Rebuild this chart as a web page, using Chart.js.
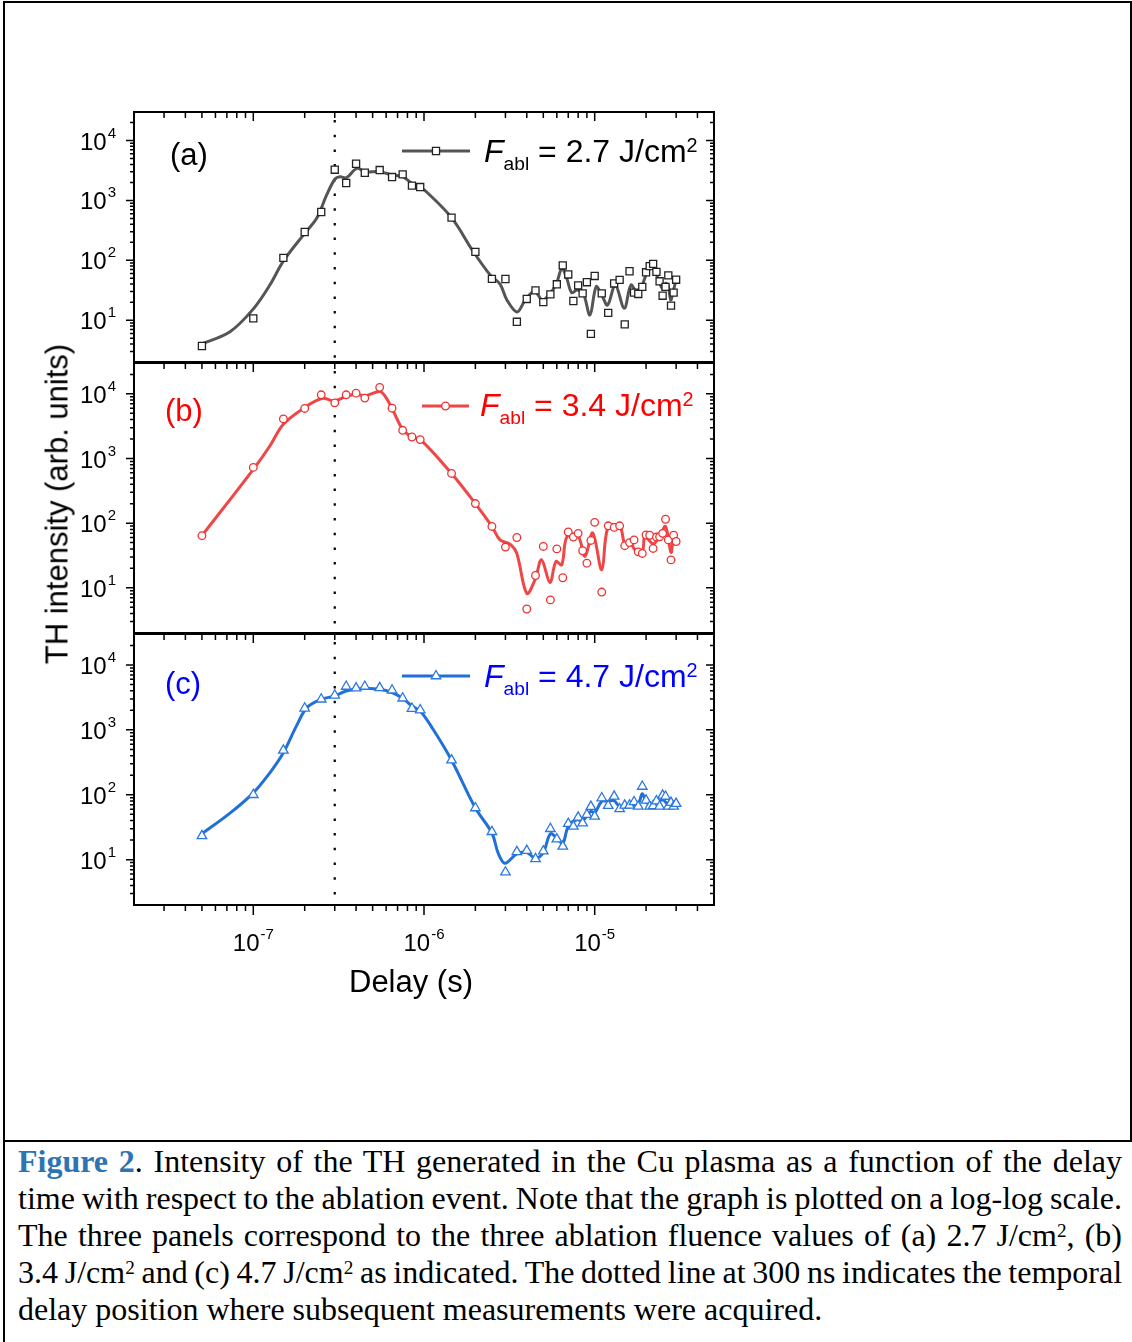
<!DOCTYPE html>
<html>
<head>
<meta charset="utf-8">
<script src="https://cdn.jsdelivr.net/npm/chart.js@4.4.0/dist/chart.umd.min.js"></script>
<style>
  html, body { margin: 0; padding: 0; background: #fff; }
  body { width: 1132px; height: 1342px; position: relative; overflow: hidden; }
  #frame { position: absolute; left: 3px; top: 1px; width: 1129px; height: 1141px; box-sizing: border-box; border: 2px solid #000; }
  #leftRule { position: absolute; left: 3px; top: 1142px; width: 2px; height: 200px; background: #000; }
  canvas { position: absolute; left: 0; }
  .txt { position: absolute; font-family: "Liberation Sans", Arial, sans-serif; line-height: 1; white-space: nowrap; }
  .txt sub, .txt sup { font-size: 0.6em; line-height: 0; vertical-align: baseline; position: relative; }
  .txt sub { top: 0.44em; }
  .txt sup { top: -0.52em; font-size: 0.62em; }
  .leg { font-size: 32px; }
  .tag { font-size: 31px; }
  #ytitle { font-size: 31px; left: 57px; top: 504px; transform: translate(-50%, -50%) rotate(-90deg); }
  #xtitle { font-size: 31px; left: 411px; top: 981px; transform: translate(-50%, -50%); }
  #caption { position: absolute; left: 18px; top: 1143px; width: 1104px; font: 32px/37px "Liberation Serif", "Times New Roman", serif; color: #000; }
  #caption .ln { white-space: nowrap; word-spacing: -4px; text-align: justify; text-align-last: justify; }
  #caption .last { word-spacing: normal; text-align-last: left; }
  #caption b { color: #2E74B5; }
  #caption sup { font-size: 0.6em; line-height: 0; vertical-align: baseline; position: relative; top: -0.48em; }
</style>
</head>
<body>
<div id="frame"></div>
<div id="leftRule"></div>

<canvas id="panelA" width="760" height="270" style="top:100px"></canvas>
<canvas id="panelB" width="760" height="286" style="top:356px"></canvas>
<canvas id="panelC" width="760" height="383" style="top:627px"></canvas>

<div class="txt tag" style="left:170px; top:139px; color:#000">(a)</div>
<div class="txt tag" style="left:165px; top:395px; color:#FF0000">(b)</div>
<div class="txt tag" style="left:165px; top:668px; color:#0000FF">(c)</div>

<div class="txt leg" style="left:484px; top:135px; color:#000"><i>F</i><sub>abl</sub> = 2.7 J/cm<sup>2</sup></div>
<div class="txt leg" style="left:480px; top:389px; color:#FF0000"><i>F</i><sub>abl</sub> = 3.4 J/cm<sup>2</sup></div>
<div class="txt leg" style="left:484px; top:660px; color:#0000FF"><i>F</i><sub>abl</sub> = 4.7 J/cm<sup>2</sup></div>

<div id="ytitle" class="txt">TH intensity (arb. units)</div>
<div id="xtitle" class="txt">Delay (s)</div>

<div id="caption">
  <div class="ln"><b>Figure 2</b>. Intensity of the TH generated in the Cu plasma as a function of the delay</div>
  <div class="ln">time with respect to the ablation event. Note that the graph is plotted on a log-log scale.</div>
  <div class="ln">The three panels correspond to the three ablation fluence values of (a) 2.7 J/cm<sup>2</sup>, (b)</div>
  <div class="ln">3.4 J/cm<sup>2</sup> and (c) 4.7 J/cm<sup>2</sup> as indicated. The dotted line at 300 ns indicates the temporal</div>
  <div class="ln last">delay position where subsequent measurements were acquired.</div>
</div>

<script>
// delay grid shared by the three fluences (s)
const delay = [5e-8, 1e-7, 1.5e-7, 2e-7, 2.5e-7, 3e-7, 3.5e-7, 4e-7, 4.5e-7, 5.5e-7,
  6.5e-7, 7.5e-7, 8.5e-7, 9.5e-7, 1.45e-6, 2e-6, 2.5e-6, 3e-6, 3.5e-6, 4e-6,
  4.5e-6, 5e-6, 5.5e-6, 6e-6, 6.5e-6, 7e-6, 7.5e-6, 8e-6, 8.5e-6, 9e-6,
  9.5e-6, 1e-5, 1.1e-5, 1.2e-5, 1.3e-5, 1.4e-5, 1.5e-5, 1.6e-5, 1.7e-5, 1.8e-5,
  1.9e-5, 2e-5, 2.1e-5, 2.2e-5, 2.3e-5, 2.4e-5, 2.5e-5, 2.6e-5, 2.7e-5, 2.8e-5,
  2.9e-5, 3e-5];

// measured TH intensity (arb. units)
const intensityA = [3.7, 10.7, 110, 297, 641, 3260, 1955, 4100, 2900, 3220,
  2460, 2730, 1765, 1675, 515, 138, 49, 48.7, 9.4, 22.6,
  31.5, 20, 27, 39.7, 82, 58, 20.9, 38, 28, 43,
  5.9, 54.7, 28, 13.2, 41, 47, 8.5, 65.6, 28.8, 27.4,
  36, 63, 80, 87, 64, 44.6, 25.6, 36, 56, 17.5,
  28.8, 47.4];
const intensityB = [64, 728, 4090, 5940, 9660, 7260, 9660, 10260, 8590, 12600,
  6000, 2730, 2150, 1960, 587, 201, 89, 42.7, 60, 4.7,
  15.5, 43.6, 6.5, 40, 14.3, 73, 61, 69.5, 37.4, 24,
  54, 103, 8.6, 91, 86, 91, 44.8, 50, 55, 36,
  34, 65.6, 65, 40.6, 61, 61.5, 69.5, 115, 55, 27,
  65, 52];
const intensityC = [23.3, 100, 482, 2150, 2960, 3410, 4660, 4390, 4660, 4430,
  4080, 3070, 2130, 2020, 341, 62.5, 26.9, 6.4, 13.2, 13.8,
  10.3, 13.5, 29.9, 20.7, 16, 35.8, 32.5, 44.8, 36.6, 49.3,
  65.6, 46.5, 89, 68, 94.6, 60.4, 68.7, 68.7, 77.4, 66.2,
  134, 82, 66, 67.5, 80, 66, 98, 94, 66, 75.5,
  66, 73];

// smoothed guide curves
const fitDelayA = [5e-8, 7.3e-8, 1e-7, 1.25e-7, 1.5e-7, 2e-7, 2.35e-7, 2.69e-7, 3.01e-7, 3.22e-7,
  3.52e-7, 4.04e-7, 4.5e-7, 5.5e-7, 6.5e-7, 7.5e-7, 8.5e-7, 9.5e-7, 1.04e-6, 1.45e-6,
  1.95e-6, 2.44e-6, 2.79e-6, 3.06e-6, 3.51e-6, 3.92e-6, 4.44e-6, 4.93e-6, 5.42e-6, 5.93e-6,
  6.43e-6, 6.86e-6, 7.33e-6, 7.9e-6, 8.57e-6, 9.38e-6, 1.02e-5, 1.1e-5, 1.19e-5, 1.32e-5,
  1.49e-5, 1.63e-5, 1.76e-5, 1.88e-5, 2.06e-5, 2.2e-5, 2.35e-5, 2.49e-5, 2.61e-5, 2.7e-5,
  2.79e-5, 2.88e-5, 2.98e-5];
const fitA = [4.0, 6.4, 15.4, 38.6, 97, 282, 502, 1233, 2280, 2490,
  2400, 3440, 3020, 3020, 2660, 2490, 1930, 1660, 1370, 515,
  138, 57, 40, 21.7, 13.7, 21.7, 30.3, 21.7, 27, 39,
  73, 50, 28.8, 31.9, 28.1, 12.2, 36.2, 26.3, 17.9, 38.6,
  15.8, 38.6, 29.9, 36.2, 68.9, 73.5, 50, 34, 41.3, 36.2,
  21.7, 29.9, 44];

const fitDelayB = [5e-8, 1e-7, 1.25e-7, 1.5e-7, 2e-7, 2.52e-7, 3e-7, 3.5e-7, 4e-7, 4.5e-7,
  5.5e-7, 5.9e-7, 6.5e-7, 7.5e-7, 8.5e-7, 9.5e-7, 1.45e-6, 2e-6, 2.5e-6, 2.79e-6,
  3.19e-6, 3.49e-6, 4e-6, 4.47e-6, 4.88e-6, 5.47e-6, 5.93e-6, 6.41e-6, 6.89e-6, 8e-6,
  8.77e-6, 9.73e-6, 1.1e-5, 1.2e-5, 1.4e-5, 1.5e-5, 1.61e-5, 1.72e-5, 1.9e-5, 1.97e-5,
  2.2e-5, 2.4e-5, 2.6e-5, 2.8e-5, 2.9e-5, 3e-5];
const fitB = [64, 678, 1560, 3390, 6150, 8490, 7800, 9120, 9900, 9310,
  10900, 9310, 5940, 2830, 2150, 1980, 587, 201, 89, 55,
  47.5, 34.5, 8.2, 13.3, 27.2, 12.1, 25.5, 22.7, 62, 62,
  30.5, 70.5, 19, 89, 89, 49, 52, 38.8, 36.6, 62,
  48, 62, 89, 35.2, 59, 55];

const fitDelayC = [5e-8, 7.3e-8, 1e-7, 1.25e-7, 1.5e-7, 1.79e-7, 2.06e-7, 2.5e-7, 3e-7, 3.5e-7,
  4.5e-7, 5.5e-7, 6.5e-7, 7.5e-7, 8.5e-7, 9.5e-7, 1.13e-6, 1.45e-6, 2e-6, 2.5e-6,
  2.72e-6, 2.98e-6, 3.5e-6, 4e-6, 4.5e-6, 5e-6, 5.5e-6, 6e-6, 6.5e-6, 7e-6,
  7.83e-6, 8.5e-6, 9.5e-6, 1e-5, 1.1e-5, 1.2e-5, 1.3e-5, 1.4e-5, 1.6e-5, 1.8e-5,
  1.9e-5, 2.02e-5, 2.2e-5, 2.5e-5, 2.7e-5, 3e-5];
const fitC = [25, 52, 107, 218, 444, 1150, 2200, 2960, 3330, 3980,
  4340, 4230, 3760, 3070, 2330, 1950, 1020, 341, 62.5, 25.7,
  12.6, 8.8, 12.3, 12.9, 10.5, 12.9, 25, 21.5, 18, 32.5,
  41.2, 39.8, 55.5, 52.4, 79, 79, 81, 66, 70.4, 73,
  104, 75, 70.4, 84, 70.4, 75];

// axes
const xRange = [2e-8, 5e-5];
const yRange = [2, 3e4];
const xTickValues = [1e-7, 1e-6, 1e-5];
const xTickExp = ['-7', '-6', '-5'];
const yTickValues = [10, 100, 1000, 10000];
const yTickExp = ['1', '2', '3', '4'];
const measureDelay = 3e-7; // dotted line, 300 ns

const FONT = '"Liberation Sans", Arial, sans-serif';

const pts = (xs, ys) => xs.map((x, i) => ({ x: x, y: ys[i] }));

// 1..9 x 10^n steps strictly inside a range, for the minor/major tick marks
function logSteps(range) {
  const out = [];
  const lo = Math.floor(Math.log10(range[0]));
  const hi = Math.ceil(Math.log10(range[1]));
  for (let e = lo; e <= hi; e++) {
    for (let k = 1; k <= 9; k++) {
      const v = k * Math.pow(10, e);
      if (v > range[0] * 1.001 && v < range[1] * 0.999) out.push({ value: v, major: k === 1 });
    }
  }
  return out;
}

// "10" with a raised exponent
function drawPower(ctx, exp, x, base, align) {
  ctx.font = '24px ' + FONT;
  const wb = ctx.measureText('10').width;
  ctx.font = '15px ' + FONT;
  const we = ctx.measureText(exp).width;
  const left = align === 'right' ? x - wb - we - 1 : x - (wb + we + 1) / 2;
  ctx.font = '24px ' + FONT;
  ctx.fillText('10', left, base);
  ctx.font = '15px ' + FONT;
  ctx.fillText(exp, left + wb + 1, base - 12);
}

const axesFrame = {
  id: 'axesFrame',
  beforeDatasetsDraw(chart) {
    const { ctx, chartArea: a, scales: { x } } = chart;
    const px = x.getPixelForValue(measureDelay);
    ctx.save();
    ctx.strokeStyle = '#000';
    ctx.lineWidth = 2.2;
    ctx.setLineDash([2.5, 12.2]);
    ctx.beginPath();
    ctx.moveTo(px, a.top + 8);
    ctx.lineTo(px, a.bottom);
    ctx.stroke();
    ctx.restore();
  },
  afterDatasetsDraw(chart, args, opts) {
    const { ctx, chartArea: a, scales: { x, y } } = chart;
    ctx.save();
    ctx.strokeStyle = '#000';
    ctx.fillStyle = '#000';

    // tick marks: left out, right/top in, bottom out on the last panel
    ctx.lineWidth = 1.5;
    ctx.beginPath();
    logSteps(yRange).forEach(t => {
      const py = y.getPixelForValue(t.value);
      const len = t.major ? 8 : 4;
      ctx.moveTo(a.left, py); ctx.lineTo(a.left - len, py);
      ctx.moveTo(a.right, py); ctx.lineTo(a.right - len, py);
    });
    logSteps(xRange).forEach(t => {
      const px = x.getPixelForValue(t.value);
      ctx.moveTo(px, a.top); ctx.lineTo(px, a.top + (t.major ? 9 : 6));
      if (opts.bottomAxis) {
        ctx.moveTo(px, a.bottom); ctx.lineTo(px, a.bottom + (t.major ? 10 : 6));
      }
    });
    ctx.stroke();

    ctx.lineWidth = 2;
    ctx.strokeRect(a.left, a.top, a.right - a.left, a.bottom - a.top);

    // tick labels
    ctx.textAlign = 'left';
    ctx.textBaseline = 'alphabetic';
    yTickValues.forEach((v, i) => drawPower(ctx, yTickExp[i], 116, y.getPixelForValue(v) + 9, 'right'));
    if (opts.bottomAxis) {
      xTickValues.forEach((v, i) => drawPower(ctx, xTickExp[i], x.getPixelForValue(v), a.bottom + 46, 'center'));
    }

    // legend sample: line with its marker
    const fit = chart.data.datasets[0];
    const meas = chart.data.datasets[1];
    const ly = a.top + opts.legend.dy;
    ctx.strokeStyle = fit.borderColor;
    ctx.lineWidth = fit.borderWidth;
    ctx.beginPath();
    ctx.moveTo(opts.legend.x1, ly);
    ctx.lineTo(opts.legend.x2, ly);
    ctx.stroke();
    ctx.fillStyle = meas.pointBackgroundColor;
    ctx.strokeStyle = meas.pointBorderColor;
    ctx.lineWidth = meas.pointBorderWidth;
    Chart.helpers.drawPoint(ctx, {
      pointStyle: meas.pointStyle, radius: meas.pointRadius, rotation: 0, borderWidth: meas.pointBorderWidth
    }, (opts.legend.x1 + opts.legend.x2) / 2, ly);
    ctx.restore();
  }
};

function makePanel(id, fitX, fitY, measY, style, pad, bottomAxis, legend) {
  return new Chart(document.getElementById(id), {
    type: 'scatter',
    data: {
      datasets: [{
        label: 'fit',
        data: pts(fitX, fitY),
        showLine: true,
        borderColor: style.line,
        borderWidth: 3,
        pointRadius: 0,
        tension: 0.35,
        order: 2
      }, {
        label: 'measured',
        data: pts(delay, measY),
        showLine: false,
        pointStyle: style.marker,
        pointRadius: style.radius,
        pointBorderWidth: 1.3,
        pointBorderColor: style.edge,
        pointBackgroundColor: '#fff',
        order: 1
      }]
    },
    options: {
      responsive: false,
      animation: false,
      events: [],
      layout: { padding: pad },
      scales: {
        x: { type: 'logarithmic', min: xRange[0], max: xRange[1], display: false },
        y: { type: 'logarithmic', min: yRange[0], max: yRange[1], display: false }
      },
      plugins: {
        legend: { display: false },
        tooltip: { enabled: false },
        axesFrame: { bottomAxis: bottomAxis, legend: legend }
      }
    },
    plugins: [axesFrame]
  });
}

makePanel('panelA', fitDelayA, fitA, intensityA,
  { line: '#555555', edge: '#222222', marker: 'rect', radius: 5 },
  { left: 134, right: 46, top: 12, bottom: 8 }, false, { x1: 402, x2: 470, dy: 39 });

makePanel('panelB', fitDelayB, fitB, intensityB,
  { line: '#F04646', edge: '#F03030', marker: 'circle', radius: 3.8 },
  { left: 134, right: 46, top: 7, bottom: 9 }, false, { x1: 422, x2: 469, dy: 43 });

makePanel('panelC', fitDelayC, fitC, intensityC,
  { line: '#2170D8', edge: '#2A78E0', marker: 'triangle', radius: 5.5 },
  { left: 134, right: 46, top: 7, bottom: 105 }, true, { x1: 402, x2: 470, dy: 42 });
</script>
</body>
</html>
